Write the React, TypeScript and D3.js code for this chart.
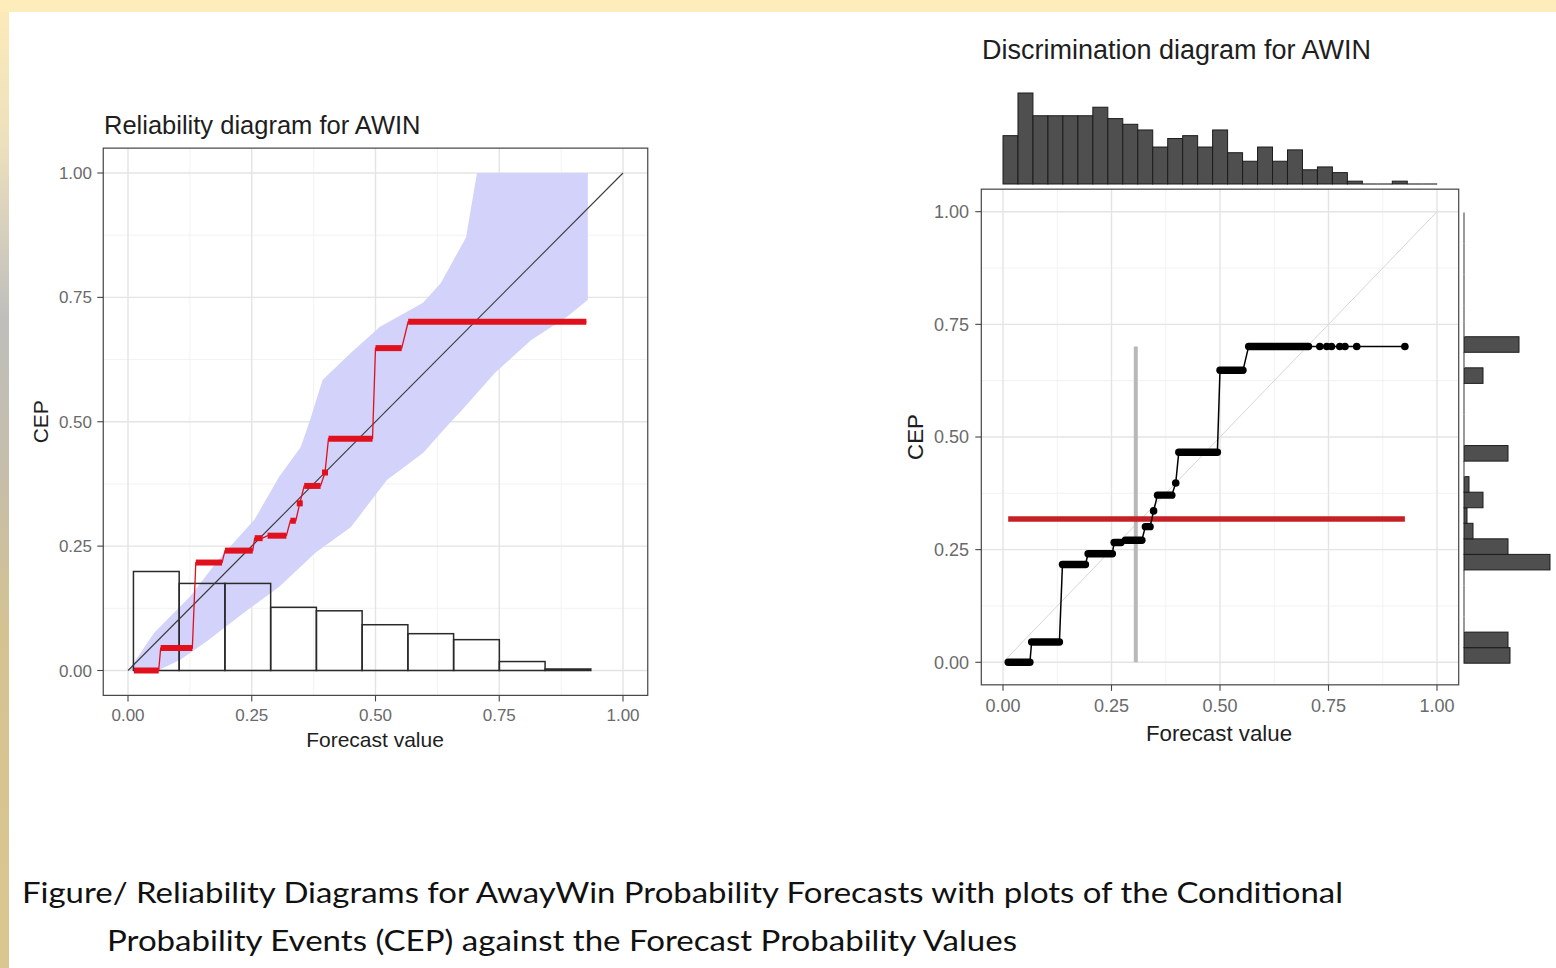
import React from "react";
import * as d3 from "d3";

// ---------- axes ----------
const axisTicks = [0, 0.25, 0.5, 0.75, 1];
const axisTickLabels = ["0.00", "0.25", "0.50", "0.75", "1.00"];
const minorGrid = [0.125, 0.375, 0.625, 0.875];

// ---------- CEP step function (shared by both diagrams) ----------
const cepLevels = [0.0, 0.045, 0.217, 0.241, 0.266, 0.271, 0.301, 0.336, 0.371, 0.398, 0.466, 0.648, 0.701];
const blockFrom = [0.012, 0.066, 0.137, 0.196, 0.256, 0.282, 0.328, 0.347, 0.356, 0.398, 0.405, 0.5, 0.566];
const blockTo = [0.062, 0.13, 0.19, 0.252, 0.272, 0.32, 0.339, 0.347, 0.389, 0.398, 0.494, 0.553, 0.704];
const sparseForecasts = [0.73, 0.746, 0.757, 0.776, 0.788, 0.815, 0.926];

// ---------- consistency band (reliability diagram) ----------
const bandUpperX = [0, 0.008, 0.053, 0.126, 0.183, 0.256, 0.305, 0.349, 0.368, 0.393, 0.45, 0.509, 0.56, 0.596, 0.632, 0.661, 0.683, 0.705, 0.929];
const bandUpperY = [0, 0.01, 0.076, 0.149, 0.223, 0.304, 0.389, 0.449, 0.504, 0.584, 0.638, 0.691, 0.719, 0.739, 0.779, 0.831, 0.871, 1.0, 1.0];
const bandLowerX = [0, 0.06, 0.105, 0.162, 0.234, 0.305, 0.378, 0.45, 0.523, 0.596, 0.655, 0.669, 0.741, 0.814, 0.887, 0.929];
const bandLowerY = [0, 0, 0.021, 0.061, 0.116, 0.168, 0.236, 0.288, 0.383, 0.437, 0.503, 0.517, 0.598, 0.664, 0.711, 0.745];

// ---------- histogram inside reliability diagram ----------
const relBinStart = 0.011;
const relBinWidth = 0.0924;
const relFreq = [0.199, 0.175, 0.175, 0.127, 0.12, 0.092, 0.074, 0.062, 0.018, 0.003];

// ---------- marginal histograms (discrimination diagram) ----------
const margBinWidth = 0.0345;
const topBinStart = 0.0;
const topCounts = [17, 32, 24, 24, 24, 24, 27, 23, 21, 19, 13, 16, 17, 13, 19, 11, 8, 13, 8, 12, 5, 6, 4, 1, 0, 0, 1, 0, 0];
const sideBinStart = -0.002;
const sideCounts = [46, 44, 0, 0, 0, 0, 86, 44, 9, 3, 19, 5, 0, 44, 0, 0, 0, 0, 19, 0, 55, 0, 0, 0, 0, 0, 0, 0, 0];

const meanForecast = 0.306;
const baseRate = 0.318;

const FONT = "'Liberation Sans', Arial, Helvetica, sans-serif";

type Scale = d3.ScaleLinear<number, number>;

function Panel(props: {
  sx: Scale;
  sy: Scale;
  tickSize: number;
  yLabelX: number;
  xLabelY: number;
  children?: React.ReactNode;
}) {
  const { sx, sy, tickSize, yLabelX, xLabelY } = props;
  const x0 = sx(-0.05), x1 = sx(1.05), y0 = sy(1.05), y1 = sy(-0.05);
  return (
    <g>
      <rect x={x0} y={y0} width={x1 - x0} height={y1 - y0} fill="#ffffff" />
      {minorGrid.map((v) => (
        <g key={"m" + v}>
          <line x1={sx(v)} x2={sx(v)} y1={y0} y2={y1} stroke="#f0f0f0" strokeWidth={0.9} />
          <line x1={x0} x2={x1} y1={sy(v)} y2={sy(v)} stroke="#f0f0f0" strokeWidth={0.9} />
        </g>
      ))}
      {axisTicks.map((v) => (
        <g key={"M" + v}>
          <line x1={sx(v)} x2={sx(v)} y1={y0} y2={y1} stroke="#e4e4e4" strokeWidth={1.4} />
          <line x1={x0} x2={x1} y1={sy(v)} y2={sy(v)} stroke="#e4e4e4" strokeWidth={1.4} />
        </g>
      ))}
      {props.children}
      <rect x={x0} y={y0} width={x1 - x0} height={y1 - y0} fill="none" stroke="#444" strokeWidth={1.2} />
      {axisTicks.map((v, i) => (
        <g key={"t" + v}>
          <line x1={x0 - 6} x2={x0} y1={sy(v)} y2={sy(v)} stroke="#444" strokeWidth={1.1} />
          <line x1={sx(v)} x2={sx(v)} y1={y1} y2={y1 + 6} stroke="#444" strokeWidth={1.1} />
          <text x={yLabelX} y={sy(v)} dy="0.36em" textAnchor="end" fontSize={tickSize} fill="#6a6a6a" fontFamily={FONT}>
            {axisTickLabels[i]}
          </text>
          <text x={sx(v)} y={xLabelY} textAnchor="middle" fontSize={tickSize} fill="#6a6a6a" fontFamily={FONT}>
            {axisTickLabels[i]}
          </text>
        </g>
      ))}
    </g>
  );
}

export default function App() {
  const lx = d3.scaleLinear().domain([0, 1]).range([128, 623]);
  const ly = d3.scaleLinear().domain([0, 1]).range([670.5, 173]);
  const rx = d3.scaleLinear().domain([0, 1]).range([1003, 1437]);
  const ry = d3.scaleLinear().domain([0, 1]).range([662.3, 211.7]);

  const lastX = d3.max(sparseForecasts) as number;
  const nLev = cepLevels.length;
  const blockEnd = cepLevels.map((_, i) => (i === nLev - 1 ? Math.max(blockTo[i], lastX) : blockTo[i]));

  // band polygon
  const upper: [number, number][] = bandUpperX.map((x, i) => [lx(x), ly(bandUpperY[i])]);
  const lower: [number, number][] = bandLowerX.map((x, i) => [lx(x), ly(bandLowerY[i])]).reverse() as [number, number][];
  const bandPath = (d3.line()(upper.concat(lower)) as string) + "Z";

  // step path points
  const stepPts = (sx: Scale, sy: Scale): [number, number][] => {
    const pts: [number, number][] = [];
    cepLevels.forEach((c, i) => {
      pts.push([sx(blockFrom[i]), sy(c)]);
      pts.push([sx(blockEnd[i]), sy(c)]);
    });
    return pts;
  };
  const line = d3.line();

  // marginal scales
  const topY = d3.scaleLinear().domain([0, d3.max(topCounts) as number]).range([184, 93]);
  const sideX = d3.scaleLinear().domain([0, d3.max(sideCounts) as number]).range([1464, 1550]);

  return (
    <svg
      width={1556}
      height={968}
      viewBox="0 0 1556 968"
      style={{ position: "absolute", left: 0, top: 0, display: "block" }}
    >
      <defs>
        <linearGradient id="leftStrip" x1="0" y1="0" x2="0" y2="1">
          <stop offset="0" stopColor="#fdebb8" />
          <stop offset="0.15" stopColor="#ece0bd" />
          <stop offset="0.33" stopColor="#bfbebc" />
          <stop offset="0.5" stopColor="#c6bea8" />
          <stop offset="0.65" stopColor="#d4c292" />
          <stop offset="1" stopColor="#dac78f" />
        </linearGradient>
      </defs>
      <rect x={0} y={0} width={1556} height={968} fill="#ffffff" />
      <rect x={0} y={0} width={1556} height={12} fill="#feedbb" />
      <rect x={0} y={0} width={9} height={968} fill="url(#leftStrip)" />
      <rect x={0} y={0} width={9} height={12} fill="#feedbb" />

      {/* ================= LEFT: Reliability diagram ================= */}
      <text x={104} y={134} fontSize={25.5} fill="#1e1e1e" fontFamily={FONT}>
        Reliability diagram for AWIN
      </text>
      <Panel sx={lx} sy={ly} tickSize={17} yLabelX={92} xLabelY={721}>
        <path d={bandPath} fill="#d2d2fa" stroke="none" />
        {relFreq.map((f, i) => {
          const a = relBinStart + i * relBinWidth;
          return (
            <rect
              key={"rh" + i}
              x={lx(a)}
              y={ly(f)}
              width={lx(a + relBinWidth) - lx(a)}
              height={ly(0) - ly(f)}
              fill="none"
              stroke="#2a2a2a"
              strokeWidth={1.5}
            />
          );
        })}
        <line x1={lx(0)} y1={ly(0)} x2={lx(1)} y2={ly(1)} stroke="#3a3a3a" strokeWidth={1.1} />
        <path d={line(stepPts(lx, ly)) as string} fill="none" stroke="#e0101c" strokeWidth={1.3} />
        {cepLevels.map((c, i) => {
          const xa = lx(blockFrom[i]);
          const xb = lx(blockEnd[i]);
          if (xb - xa < 3) {
            return <rect key={"rb" + i} x={(xa + xb) / 2 - 3} y={ly(c) - 3} width={6} height={6} fill="#e0101c" />;
          }
          return <line key={"rb" + i} x1={xa} x2={xb} y1={ly(c)} y2={ly(c)} stroke="#e0101c" strokeWidth={6} />;
        })}
      </Panel>
      <text x={375} y={746.5} textAnchor="middle" fontSize={21} fill="#1e1e1e" fontFamily={FONT}>
        Forecast value
      </text>
      <text transform={`translate(47.5,${ly(0.5)}) rotate(-90)`} textAnchor="middle" fontSize={21} fill="#1e1e1e" fontFamily={FONT}>
        CEP
      </text>

      {/* ================= RIGHT: Discrimination diagram ================= */}
      <text x={982} y={58.5} fontSize={27} fill="#1e1e1e" fontFamily={FONT}>
        Discrimination diagram for AWIN
      </text>

      {/* top marginal histogram */}
      {topCounts.map((c, i) => {
        const a = topBinStart + i * margBinWidth;
        const xa = rx(a), xb = rx(a + margBinWidth);
        if (c === 0) {
          return <line key={"th" + i} x1={xa} x2={xb} y1={184} y2={184} stroke="#333" strokeWidth={1.2} />;
        }
        return (
          <rect key={"th" + i} x={xa} y={topY(c)} width={xb - xa} height={184 - topY(c)} fill="#4f4f4f" stroke="#1c1c1c" strokeWidth={1} />
        );
      })}

      {/* right marginal histogram */}
      {sideCounts.map((c, i) => {
        const a = sideBinStart + i * margBinWidth;
        const ya = ry(a + margBinWidth), yb = ry(a);
        if (c === 0) {
          return <line key={"sh" + i} x1={1464} x2={1464} y1={ya} y2={yb} stroke="#808080" strokeWidth={1.6} />;
        }
        return (
          <rect key={"sh" + i} x={1464} y={ya} width={sideX(c) - 1464} height={yb - ya} fill="#4f4f4f" stroke="#1c1c1c" strokeWidth={1} />
        );
      })}

      <Panel sx={rx} sy={ry} tickSize={18} yLabelX={969} xLabelY={711.5}>
        <line x1={rx(0)} y1={ry(0)} x2={rx(1)} y2={ry(1)} stroke="#d6d6d6" strokeWidth={1} />
        <line
          x1={rx(meanForecast)}
          x2={rx(meanForecast)}
          y1={ry(d3.min(cepLevels) as number)}
          y2={ry(d3.max(cepLevels) as number)}
          stroke="#b8b8b8"
          strokeWidth={4}
        />
        <line
          x1={rx(blockFrom[0])}
          x2={rx(lastX)}
          y1={ry(baseRate)}
          y2={ry(baseRate)}
          stroke="#c42026"
          strokeWidth={5.5}
        />
        <path d={line(stepPts(rx, ry)) as string} fill="none" stroke="#000" strokeWidth={1.5} />
        {cepLevels.map((c, i) => {
          const xa = rx(blockFrom[i]);
          const xb = rx(blockTo[i]);
          if (xb - xa < 2) {
            return <circle key={"bk" + i} cx={(xa + xb) / 2} cy={ry(c)} r={3.8} fill="#000" />;
          }
          return (
            <line key={"bk" + i} x1={xa} x2={xb} y1={ry(c)} y2={ry(c)} stroke="#000" strokeWidth={7.4} strokeLinecap="round" />
          );
        })}
        {sparseForecasts.map((f, i) => (
          <circle key={"sp" + i} cx={rx(f)} cy={ry(cepLevels[nLev - 1])} r={3.8} fill="#000" />
        ))}
      </Panel>
      <text x={1219} y={741} textAnchor="middle" fontSize={22.3} fill="#1e1e1e" fontFamily={FONT}>
        Forecast value
      </text>
      <text transform={`translate(923,${ry(0.5)}) rotate(-90)`} textAnchor="middle" fontSize={22.3} fill="#1e1e1e" fontFamily={FONT}>
        CEP
      </text>

      {/* ================= Caption ================= */}
      <text x={22} y={903} fontSize={29} fill="#111" fontFamily="Lato, 'Open Sans', sans-serif" textLength={1321} lengthAdjust="spacingAndGlyphs">
        Figure/ Reliability Diagrams for AwayWin Probability Forecasts with plots of the Conditional
      </text>
      <text x={107} y={951} fontSize={29} fill="#111" fontFamily="Lato, 'Open Sans', sans-serif" textLength={910} lengthAdjust="spacingAndGlyphs">
        Probability Events (CEP) against the Forecast Probability Values
      </text>
    </svg>
  );
}
